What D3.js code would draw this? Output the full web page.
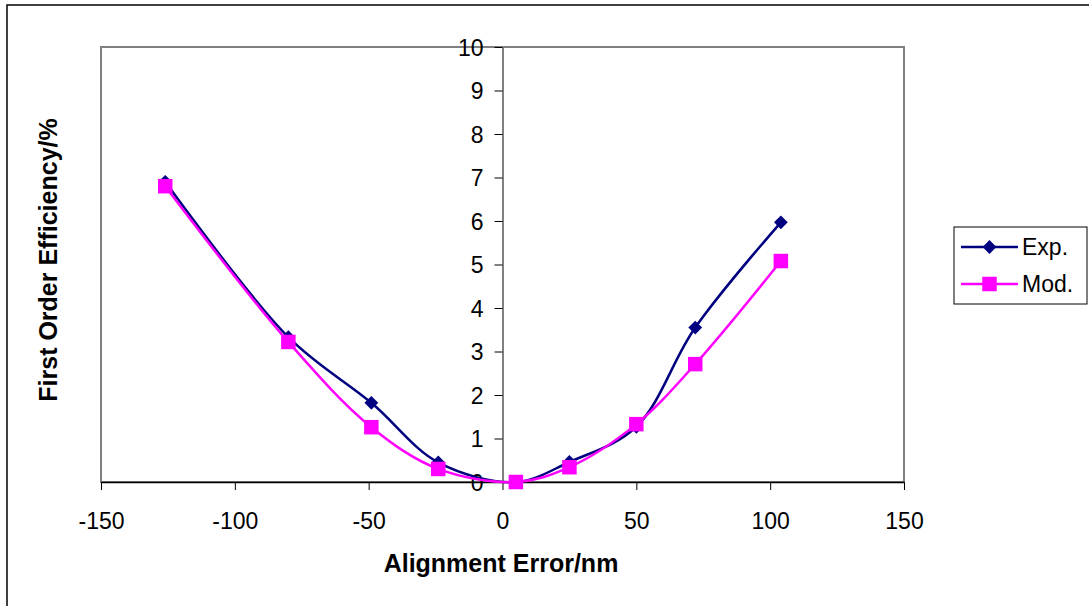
<!DOCTYPE html>
<html>
<head>
<meta charset="utf-8">
<script src="https://cdn.jsdelivr.net/npm/d3@7"></script>
<style>
  body { margin: 0; background: #fff; }
  text { font-family: "Liberation Sans", Arial, sans-serif; }
</style>
</head>
<body>
<div id="chart"></div>
<script>
// data
const errorExp = [-126, -80, -49, -24, 5, 25, 50, 72, 104]
const efficiencyExp = [6.9, 3.33, 1.82, 0.45, 0, 0.46, 1.27, 3.55, 5.97]
const errorMod = [-126, -80, -49, -24, 5, 25, 50, 72, 104]
const efficiencyMod = [6.8, 3.22, 1.26, 0.3, 0, 0.34, 1.33, 2.71, 5.08]
const xTicks = [-150, -100, -50, 0, 50, 100, 150]
const yTicks = [0, 1, 2, 3, 4, 5, 6, 7, 8, 9, 10]
const seriesNames = ['Exp.', 'Mod.']
const seriesColors = ['#000080', '#ff00ff']

const width = 1089, height = 606
const fontFamily = '"Liberation Sans", Arial, sans-serif'
const svg = d3.select('#chart').append('svg')
    .attr('width', width).attr('height', height)

// outer frame (runs off the right/bottom edge)
svg.append('rect')
    .attr('x', 7).attr('y', 5)
    .attr('width', width + 10).attr('height', height + 10)
    .attr('fill', 'none').attr('stroke', '#000').attr('stroke-width', 1.5)

// plot area
const plot = { left: 101, right: 904, top: 47, bottom: 482 }

const xScale = d3.scaleLinear().domain([-150, 150]).range([plot.left, plot.right])
const yScale = d3.scaleLinear().domain([0, 10]).range([plot.bottom, plot.top])

svg.append('rect')
    .attr('x', plot.left).attr('y', plot.top)
    .attr('width', plot.right - plot.left).attr('height', plot.bottom - plot.top)
    .attr('fill', 'none').attr('stroke', '#808080').attr('stroke-width', 2)

// x axis at y = 0
const xAxis = svg.append('g')
    .attr('transform', `translate(0, ${yScale(0)})`)
    .call(d3.axisBottom(xScale).tickValues(xTicks).tickFormat(d => String(d))
        .tickSize(8).tickSizeOuter(0))
xAxis.select('.domain').attr('stroke', '#000').attr('stroke-width', 1.5)
xAxis.selectAll('.tick line').attr('stroke', '#000')
xAxis.selectAll('.tick text')
    .attr('fill', '#000').attr('dy', 0).attr('y', 47)
    .style('font-size', '23px').style('font-family', fontFamily)

// y axis at x = 0
const yAxis = svg.append('g')
    .attr('transform', `translate(${xScale(0)}, 0)`)
    .call(d3.axisLeft(yScale).tickValues(yTicks).tickSize(8).tickSizeOuter(0))
yAxis.select('.domain').attr('stroke', '#808080').attr('stroke-width', 2)
yAxis.selectAll('.tick line').attr('stroke', '#000')
yAxis.selectAll('.tick text')
    .attr('fill', '#000').attr('x', -19).attr('dy', '0.36em')
    .style('font-size', '23px').style('font-family', fontFamily)

// axis titles
svg.append('text')
    .attr('x', 501).attr('y', 572)
    .attr('text-anchor', 'middle').style('font-size', '25px').attr('font-weight', 'bold')
    .text('Alignment Error/nm')
svg.append('text')
    .attr('transform', 'translate(57, 260) rotate(-90)')
    .attr('text-anchor', 'middle').style('font-size', '25px').attr('font-weight', 'bold')
    .text('First Order Efficiency/%')

// series
const series = [
    { name: seriesNames[0], color: seriesColors[0], xs: errorExp, ys: efficiencyExp, marker: 'diamond' },
    { name: seriesNames[1], color: seriesColors[1], xs: errorMod, ys: efficiencyMod, marker: 'square' }
]

const line = d3.line()
    .x(d => xScale(d[0]))
    .y(d => yScale(d[1]))
    .curve(d3.curveCatmullRom.alpha(0.5))

const diamond = d3.symbol().type(d3.symbolSquare).size(95)
const square = d3.symbol().type(d3.symbolSquare).size(210)

function drawMarker(g, kind, x, y, color) {
    if (kind === 'diamond') {
        g.append('path').attr('d', diamond())
            .attr('transform', `translate(${x}, ${y}) rotate(45)`)
            .attr('fill', color)
    } else {
        g.append('path').attr('d', square())
            .attr('transform', `translate(${x}, ${y})`)
            .attr('fill', color)
    }
}

series.forEach(s => {
    const pts = s.xs.map((x, i) => [x, s.ys[i]])
    svg.append('path').datum(pts)
        .attr('d', line)
        .attr('fill', 'none').attr('stroke', s.color).attr('stroke-width', 2.5)
    const g = svg.append('g')
    pts.forEach(p => drawMarker(g, s.marker, xScale(p[0]), yScale(p[1]), s.color))
})

// legend
const legend = svg.append('g')
legend.append('rect')
    .attr('x', 954).attr('y', 227).attr('width', 133).attr('height', 77)
    .attr('fill', '#fff').attr('stroke', '#000').attr('stroke-width', 1)
series.forEach((s, i) => {
    const ly = 247 + i * 37
    legend.append('line')
        .attr('x1', 961).attr('x2', 1018).attr('y1', ly).attr('y2', ly)
        .attr('stroke', s.color).attr('stroke-width', 2.5)
    drawMarker(legend, s.marker, 989.5, ly, s.color)
    legend.append('text')
        .attr('x', 1022).attr('y', ly).attr('dy', '0.36em')
        .style('font-size', '23px').text(s.name)
})
</script>
</body>
</html>
